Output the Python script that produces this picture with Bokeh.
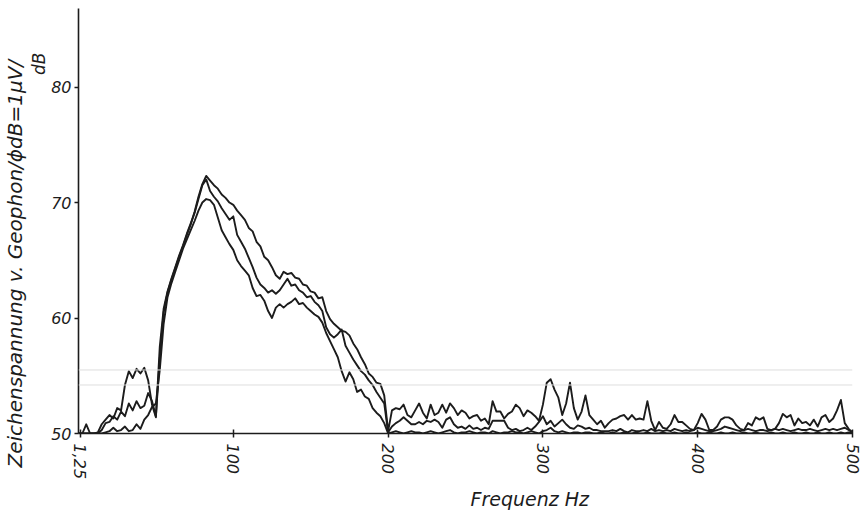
import numpy as np
from bokeh.plotting import figure
from bokeh.models import Range1d, FixedTicker, Span, Title
from bokeh.embed import file_html
from bokeh.resources import INLINE

# sampling grid of the analyser trace (Hz), 2.5 Hz spacing read from the sheet
freq = np.arange(0, 500.01, 2.5)

# three recorded traces (dB, 0 dB = 1 µV)
trace_a = [
    50.0, 50.0, 50.0, 50.0, 50.0, 50.0, 50.3, 50.9, 51.0, 51.5, 51.2, 51.9, 51.5, 52.6, 52.0, 52.8, 52.2, 52.4, 53.5, 52.8, 51.5,
    56.5, 60.5, 62.2, 63.3, 64.3, 65.3, 66.2, 67.2, 68.1, 69.2, 70.5, 71.6, 72.3,
    71.9, 71.5, 71.2, 70.7, 70.4, 70.0, 69.8, 69.3, 68.9, 68.5, 67.8, 67.5, 66.6, 66.2, 65.3, 65.0,
    64.4, 63.7, 63.4, 64.0, 63.8, 63.9, 63.5, 63.4, 62.9, 62.8, 62.3, 62.2, 61.7, 61.8, 60.6, 59.9,
    59.5, 59.2, 58.9, 58.8, 58.5, 57.8, 57.3, 56.6, 56.0, 55.2, 54.9, 54.4, 54.3, 53.3, 50.2,
    52.0, 52.2, 52.1, 52.5, 51.6, 51.4, 52.0, 52.6, 51.8, 51.3,
    52.5, 51.6, 51.8, 52.5, 51.8, 52.6, 52.2, 51.6, 52.0, 51.8,
    51.3, 51.5, 51.6, 51.1, 51.3, 50.8, 52.8, 51.9, 51.9, 51.3,
    51.7, 51.9, 52.5, 52.2, 51.5, 52.0, 51.8, 51.5, 51.1, 52.5,
    54.4, 54.7, 53.8, 53.1, 51.6, 52.6, 54.4, 52.2, 51.2, 51.9,
    53.3, 51.6, 51.2, 50.8, 51.1, 50.5, 50.9, 51.2, 51.3, 51.5,
    51.6, 51.2, 51.6, 51.2, 51.3, 51.2, 52.8, 51.1, 50.3, 51.0,
    50.5, 50.4, 50.8, 51.6, 51.0, 51.0, 50.7, 50.4, 50.3, 50.9,
    51.7, 51.2, 50.3, 50.3, 50.6, 51.2, 51.4, 51.4, 51.2, 50.7,
    50.4, 50.3, 50.9, 50.7, 51.4, 51.2, 51.4, 50.4, 50.3, 50.4,
    50.9, 51.7, 51.4, 51.6, 50.7, 51.3, 50.9, 51.0, 50.7, 51.2,
    50.6, 51.4, 51.6, 51.0, 51.3, 52.0, 52.9, 50.9, 50.4, 50.1,
]

trace_b = [
    50.0, 50.0, 50.8, 50.0, 50.0, 50.1, 50.8, 51.2, 51.6, 51.3, 52.2, 52.0, 54.2, 55.4, 54.8, 55.6, 55.2, 55.7, 54.6, 52.5, 51.4,
    57.5, 60.8, 62.3, 63.4, 64.4, 65.4, 66.3, 67.3, 68.2, 69.1, 70.3, 71.5, 72.0,
    71.0, 70.5, 70.1, 69.5, 69.0, 68.5, 68.8, 67.2, 66.6, 66.0, 65.2, 64.4, 63.5, 62.9, 62.6, 62.2,
    62.4, 62.1, 62.4, 62.9, 63.4, 62.8, 62.9, 62.4, 62.2, 61.8, 61.9, 61.4, 61.1, 60.6, 59.2, 58.6,
    58.3, 58.6, 59.0, 57.6, 57.0, 56.4, 55.9, 55.4, 55.1, 54.6, 54.2, 53.6, 53.1, 52.6, 50.1,
    50.6, 50.9, 51.1, 51.4, 51.1, 50.8, 50.8, 51.0, 50.8, 51.1,
    51.0, 51.2, 51.0, 50.5, 51.2, 51.4, 50.8, 50.5, 50.6, 50.4,
    50.7, 50.4, 50.5, 50.3, 50.5, 50.4, 51.1, 51.1, 51.1, 51.1,
    50.5, 50.3, 50.4, 50.2, 50.3, 50.5, 50.3, 50.6, 51.0, 51.5,
    50.8, 51.1, 50.6, 50.9, 51.2, 50.8, 50.5, 50.4, 50.7, 50.6,
    50.4, 50.5, 50.3, 50.3, 50.2, 50.2, 50.2, 50.3, 50.2, 50.4,
    50.2, 50.1, 50.3, 50.2, 50.2, 50.3, 50.2, 50.4, 50.2, 50.3,
    50.2, 50.3, 50.2, 50.4, 50.3, 50.2, 50.3, 50.2, 50.3, 50.5,
    50.4, 50.3, 50.2, 50.2, 50.3, 50.4, 50.6, 50.5, 50.4, 50.3,
    50.2, 50.3, 50.4, 50.3, 50.2, 50.3, 50.3, 50.2, 50.3, 50.4,
    50.3, 50.4, 50.3, 50.2, 50.3, 50.4, 50.3, 50.3, 50.4, 50.3,
    50.2, 50.3, 50.4, 50.3, 50.4, 50.3, 50.4, 50.5, 50.3, 50.1,
]

trace_c = [
    50.0, 50.0, 50.0, 50.0, 50.0, 50.0, 50.0, 50.1, 50.2, 50.5, 50.2, 50.3, 50.6, 50.2, 50.3, 50.8, 50.4, 51.2, 51.6, 52.3, 52.6,
    55.5, 59.5, 61.8, 63.0, 64.0, 65.0, 66.0, 66.8, 67.6, 68.4, 69.3, 70.0, 70.3,
    70.2, 69.8, 68.7, 67.6, 67.0, 66.4, 65.9, 65.0, 64.5, 64.1, 63.7, 62.6, 61.9, 62.0, 61.5, 60.6,
    60.0, 60.9, 61.2, 60.9, 61.2, 61.4, 61.7, 61.2, 61.3, 60.9, 60.6, 60.3, 60.1, 59.6, 58.7, 58.0,
    57.3, 56.6, 55.4, 54.5, 55.3, 54.7, 53.6, 53.8, 53.2, 53.0, 52.2, 51.8, 51.5, 50.9, 50.0,
    50.1, 50.2, 50.1, 50.0, 50.1, 50.2, 50.1, 50.1, 50.0, 50.1,
    50.2, 50.1, 50.0, 50.1, 50.2, 50.3, 50.1, 50.0, 50.1, 50.1,
    50.2, 50.1, 50.0, 50.1, 50.1, 50.0, 50.2, 50.1, 50.0, 50.1,
    50.1, 50.2, 50.1, 50.1, 50.0, 50.1, 50.2, 50.1, 50.0, 50.2,
    50.3, 50.5, 50.2, 50.1, 50.2, 50.1, 50.0, 50.1, 50.1, 50.0,
    50.1, 50.1, 50.0, 50.0, 50.1, 50.0, 50.0, 50.1, 50.0, 50.0,
    50.1, 50.0, 50.0, 50.1, 50.0, 50.0, 50.1, 50.0, 50.0, 50.0,
    50.1, 50.0, 50.0, 50.1, 50.0, 50.0, 50.1, 50.0, 50.0, 50.1,
    50.0, 50.0, 50.1, 50.0, 50.0, 50.1, 50.0, 50.0, 50.1, 50.0,
    50.0, 50.1, 50.0, 50.0, 50.1, 50.0, 50.0, 50.0, 50.1, 50.0,
    50.0, 50.1, 50.0, 50.0, 50.1, 50.0, 50.0, 50.1, 50.0, 50.0,
    50.1, 50.0, 50.0, 50.1, 50.0, 50.0, 50.1, 50.0, 50.1, 50.0,
]

x_ticks = [1.25, 100, 200, 300, 400, 500]
x_tick_labels = ["1,25", "100", "200", "300", "400", "500"]
y_ticks = [50, 60, 70, 80]
scan_lines = [55.5, 54.2]

assert len(freq) == len(trace_a) == len(trace_b) == len(trace_c), (len(freq), len(trace_a), len(trace_b), len(trace_c))

INK = "#1c1c1c"
FONT = "DejaVu Sans"

p = figure(width=866, height=521, output_backend="svg", toolbar_location=None,
           x_range=Range1d(0, 500), y_range=Range1d(50, 86.8),
           min_border_left=78, min_border_right=14, min_border_top=8, min_border_bottom=88)
p.outline_line_color = None
p.xgrid.visible = False
p.ygrid.visible = False
p.background_fill_color = "white"
p.border_fill_color = "white"

for yv in scan_lines:
    p.add_layout(Span(location=yv, dimension="width", line_color="#dedede", line_width=1))

for tr in (trace_c, trace_b, trace_a):
    p.line(freq, tr, line_color=INK, line_width=1.9, line_join="round")

for ax in (p.xaxis[0], p.yaxis[0]):
    ax.axis_line_color = INK
    ax.axis_line_width = 1.6
    ax.major_tick_line_color = INK
    ax.major_tick_line_width = 1.5
    ax.minor_tick_line_color = None
    ax.major_label_text_font = FONT
    ax.major_label_text_font_style = "italic"
    ax.major_label_text_font_size = "16px"
    ax.major_label_text_color = INK

p.xaxis.ticker = FixedTicker(ticks=x_ticks)
p.xaxis.major_label_overrides = {t: l for t, l in zip(x_ticks, x_tick_labels)}
p.xaxis.major_label_orientation = "vertical"
p.xaxis.major_tick_in = 4
p.xaxis.major_tick_out = 4
p.xaxis.major_label_standoff = 6

p.yaxis.ticker = FixedTicker(ticks=y_ticks)
p.yaxis.major_tick_in = 0
p.yaxis.major_tick_out = 4
p.yaxis.major_label_standoff = 3

# unit mark near the top of the y axis
p.add_layout(Title(text="dB", align="right", offset=44, standoff=0,
                   text_font=FONT, text_font_style="italic", text_font_size="17px",
                   text_color=INK), "left")
# y axis description
p.add_layout(Title(text="Zeichenspannung v. Geophon/ϕdB=1µV/", align="left", offset=-34, standoff=0,
                   text_font=FONT, text_font_style="italic", text_font_size="20px",
                   text_color=INK), "left")
# x axis description
p.add_layout(Title(text="Frequenz Hz", align="left", offset=392, standoff=6,
                   text_font=FONT, text_font_style="italic", text_font_size="19px",
                   text_color=INK), "below")

open("out.html", "w").write(file_html(p, INLINE))
